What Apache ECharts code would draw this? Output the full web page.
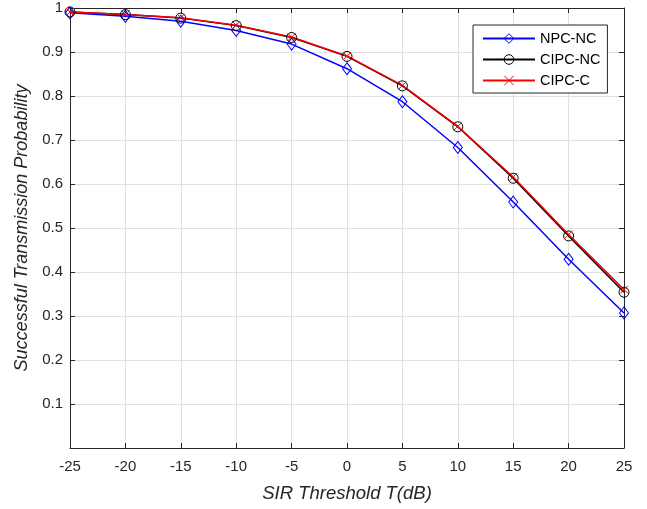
<!DOCTYPE html>
<html>
<head>
<meta charset="utf-8">
<script src="https://cdn.jsdelivr.net/npm/echarts@6/dist/echarts.min.js"></script>
<style>
html,body{margin:0;padding:0;background:#fff;}
#chart{width:647px;height:509px;}
</style>
</head>
<body>
<div id="chart"></div>
<script>
// SIR threshold (dB)
var xValues = [-25, -20, -15, -10, -5, 0, 5, 10, 15, 20, 25];
var npcNc  = [0.989, 0.981, 0.970, 0.949, 0.918, 0.862, 0.787, 0.683, 0.559, 0.429, 0.307];
var cipcNc = [0.991, 0.985, 0.977, 0.960, 0.933, 0.890, 0.823, 0.730, 0.613, 0.482, 0.354];
var cipcC  = [0.991, 0.985, 0.978, 0.961, 0.934, 0.891, 0.824, 0.731, 0.616, 0.485, 0.360];

function pairs(ys){
    return xValues.map(function(x, i){ return [x, ys[i]]; });
}

var axisColor = '#262626';
var font = '"Liberation Sans", Arial, sans-serif';
var crossPath = 'path://M0,0L10,10M10,0L0,10';

var chart = echarts.init(document.getElementById('chart'));
var option = {
    animation: false,
    backgroundColor: '#fff',
    grid: { left: 70, right: 23, top: 8, bottom: 61 },
    legend: {
        orient: 'vertical',
        left: 473,
        top: 25,
        padding: [6, 7, 5, 9],
        itemGap: 6,
        itemWidth: 52,
        itemHeight: 12,
        borderColor: axisColor,
        borderWidth: 1,
        backgroundColor: '#fff',
        itemStyle: { color: 'none', borderWidth: 1 },
        textStyle: { fontFamily: font, fontSize: 14.5, color: '#000' },
        data: ['NPC-NC', 'CIPC-NC', 'CIPC-C']
    },
    xAxis: [
        {
            type: 'value', min: -25, max: 25, interval: 5,
            name: 'SIR Threshold T(dB)', nameLocation: 'middle', nameGap: 36,
            nameTextStyle: { fontFamily: font, fontSize: 18.5, fontStyle: 'italic', color: axisColor },
            axisLine: { show: true, onZero: false, lineStyle: { color: axisColor } },
            axisTick: { show: true, inside: true, length: 5, lineStyle: { color: axisColor } },
            axisLabel: { margin: 11, fontFamily: font, fontSize: 15, color: axisColor },
            splitLine: { show: true, lineStyle: { color: '#e0e0e0' } }
        },
        {
            type: 'value', min: -25, max: 25, interval: 5, position: 'top',
            axisLine: { show: true, onZero: false, lineStyle: { color: axisColor } },
            axisTick: { show: true, inside: true, length: 5, lineStyle: { color: axisColor } },
            axisLabel: { show: false },
            splitLine: { show: false }
        }
    ],
    yAxis: [
        {
            type: 'value', min: 0, max: 1, interval: 0.1,
            name: 'Successful Transmission Probability', nameLocation: 'middle', nameGap: 38,
            nameTextStyle: { fontFamily: font, fontSize: 18, fontStyle: 'italic', color: axisColor },
            axisLine: { show: true, onZero: false, lineStyle: { color: axisColor } },
            axisTick: { show: true, inside: true, length: 5, lineStyle: { color: axisColor } },
            axisLabel: {
                margin: 7, fontFamily: font, fontSize: 15, color: axisColor,
                formatter: function(v){ return v === 0 ? '' : String(Math.round(v * 10) / 10); }
            },
            splitLine: { show: true, lineStyle: { color: '#e0e0e0' } }
        },
        {
            type: 'value', min: 0, max: 1, interval: 0.1, position: 'right',
            axisLine: { show: true, onZero: false, lineStyle: { color: axisColor } },
            axisTick: { show: true, inside: true, length: 5, lineStyle: { color: axisColor } },
            axisLabel: { show: false },
            splitLine: { show: false }
        }
    ],
    series: [
        {
            name: 'NPC-NC', type: 'line', data: pairs(npcNc),
            symbol: 'diamond', symbolSize: [9, 12],
            itemStyle: { color: 'none', borderColor: '#0000ff', borderWidth: 1 },
            lineStyle: { color: '#0000ff', width: 1.5 }
        },
        {
            name: 'CIPC-NC', type: 'line', data: pairs(cipcNc),
            symbol: 'circle', symbolSize: 10,
            itemStyle: { color: 'none', borderColor: '#000', borderWidth: 1 },
            lineStyle: { color: '#000', width: 1.5 }
        },
        {
            name: 'CIPC-C', type: 'line', data: pairs(cipcC),
            symbol: crossPath, symbolSize: 8,
            itemStyle: { color: 'none', borderColor: '#ff0000', borderWidth: 1 },
            lineStyle: { color: '#ff0000', width: 1.5 }
        }
    ]
};
chart.setOption(option);
</script>
</body>
</html>
